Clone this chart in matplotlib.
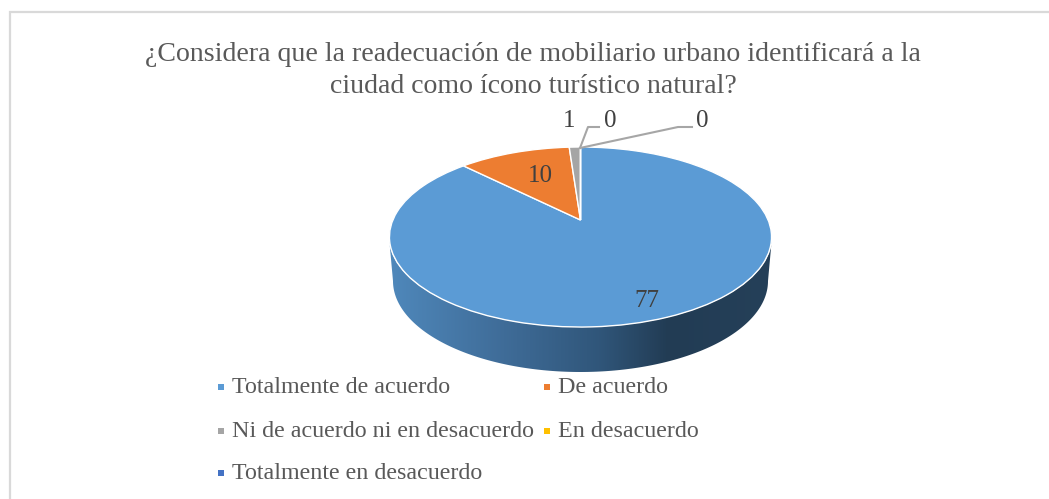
import numpy as np
import matplotlib
matplotlib.use("Agg")
import matplotlib.pyplot as plt
import matplotlib.transforms as mtransforms
from matplotlib.colors import LinearSegmentedColormap
from matplotlib.patches import Polygon, Rectangle

title_lines = ["¿Considera que la readecuación de mobiliario urbano identificará a la",
               "ciudad como ícono turístico natural?"]
categories = ["Totalmente de acuerdo", "De acuerdo", "Ni de acuerdo ni en desacuerdo",
              "En desacuerdo", "Totalmente en desacuerdo"]
values = [77, 10, 1, 0, 0]
colors = ["#5B9BD5", "#ED7D31", "#A5A5A5", "#FFC000", "#4472C4"]

TEXT = "#595959"
plt.rcParams["font.family"] = ["Liberation Serif", "DejaVu Serif"]

fig = plt.figure(figsize=(10.49, 4.99), dpi=100, facecolor="white")
ax = fig.add_axes([0, 0, 1, 1])


class Perspective(mtransforms.Transform):
    """Tilted disc: unit circle -> page pixels."""
    input_dims = output_dims = 2
    has_inverse = False

    def __init__(self, cx, cy, bx, ay, k):
        super().__init__()
        self.p = (cx, cy, bx, ay, k)

    def transform_non_affine(self, xy):
        cx, cy, bx, ay, k = self.p
        xy = np.asarray(xy, float)
        w = 1 + k * xy[:, 1]
        return np.column_stack([cx + bx * xy[:, 0] / w, cy - ay * xy[:, 1] / w])


proj = Perspective(580.5, 220, 187.6, 86.8, 0.189)

# side wall of the disc
th = np.linspace(np.pi, 2 * np.pi, 200)
cy_top, ry_top, rx_top = 237, 90, 191.5
cy_bot, ry_bot, rx_bot = 281, 91, 187.5
upper = np.column_stack([580.5 + rx_top * np.cos(th), cy_top - ry_top * np.sin(th)])
lower = np.column_stack([580.5 + rx_bot * np.cos(th), cy_bot - ry_bot * np.sin(th)])
wall = Polygon(np.vstack([upper, lower[::-1]]), closed=True, facecolor="none", edgecolor="none",
               transform=ax.transData)
ax.add_patch(wall)
cmap = LinearSegmentedColormap.from_list("wall", [(0, "#4F88BB"), (0.3, "#3F6C98"), (0.55, "#30567A"),
                                                  (0.73, "#223C54"), (1, "#254059")])
im = ax.imshow(np.linspace(0, 1, 256)[None, :], cmap=cmap, extent=(389, 772, 380, 230), aspect="auto",
               zorder=1, interpolation="bilinear")
im.set_clip_path(wall)

wedges, _ = ax.pie(values, colors=colors, startangle=90, counterclock=False,
                   wedgeprops=dict(edgecolor="white", linewidth=1.0, zorder=2))
for w in wedges:
    w.set_transform(proj + ax.transData)
    w.set_clip_on(False)

ax.set_aspect("auto")
ax.set_xlim(0, 1049)
ax.set_ylim(499, 0)
ax.axis("off")

# frame: only top and left edges fall inside the picture
ax.plot([9.5, 9.5, 1049], [499, 11.5, 11.5], color="#D9D9D9", lw=1.6, zorder=0, solid_joinstyle="miter")

# title
ax.text(533, 61, title_lines[0], ha="center", va="baseline", fontsize=20.05, color=TEXT)
ax.text(533.5, 93, title_lines[1], ha="center", va="baseline", fontsize=20.05, color=TEXT)

# data labels and leader lines
labels = [(647, 307), (540, 182), (569, 127), (610, 127), (702, 127)]
for v, (x, y) in zip(values, labels):
    ax.text(x, y, str(v), ha="center", va="baseline", fontsize=18, color="#404040")
ax.plot([580, 588, 599], [148, 127, 127], color="#A6A6A6", lw=1.5, zorder=3)
ax.plot([580, 678, 692], [148, 127, 127], color="#A6A6A6", lw=1.5, zorder=3)

# legend
legend_pos = [(221, 393), (547, 393), (221, 437), (547, 437), (221, 479)]
for cat, col, (x, y) in zip(categories, colors, legend_pos):
    ax.add_patch(Rectangle((x - 3, y - 9.5), 6, 6, facecolor=col, edgecolor="none", zorder=3))
    ax.text(x + 11, y, cat, ha="left", va="baseline", fontsize=17.3, color=TEXT)

fig.savefig("out.png", dpi=100)
